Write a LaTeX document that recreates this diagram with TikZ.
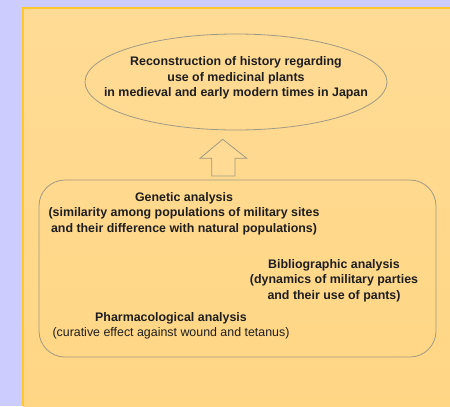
\documentclass[tikz,border=0pt]{standalone}
\usepackage{fontspec}
\setmainfont{Liberation Sans}
\usetikzlibrary{shapes.geometric}
\definecolor{lav}{HTML}{CCCCFF}
\definecolor{paneltop}{HTML}{FFDB95}
\definecolor{panelbot}{HTML}{FFD684}
\definecolor{panelrim}{HTML}{FFC830}
\definecolor{outl}{HTML}{A09A84}
\definecolor{txt}{HTML}{1E1E1E}
\tikzset{
  bigtxt/.style={font=\fontsize{12.4bp}{15.5bp}\selectfont, text=txt, align=center, inner sep=0pt},
  rimline/.style={draw=outl, line width=0.8bp},
}
\begin{document}
\begin{tikzpicture}[x=1bp,y=-1bp]
\useasboundingbox (0,0) rectangle (450,406);
\fill[lav] (0,0) rectangle (450,406);
\shade[top color=paneltop, bottom color=panelbot] (23,8) rectangle (450,406);
\draw[panelrim, line width=1.5bp] (23,406) -- (23,8) -- (450,8);
% ellipse
\node[ellipse, rimline, minimum width=302bp, minimum height=96bp, inner sep=0pt] (goal) at (236,82) {};
\node[bigtxt, font=\fontsize{12.4bp}{15.5bp}\selectfont\bfseries] (goaltxt) at (236,78) {Reconstruction of history regarding\\use of medicinal plants\\in medieval and early modern times in Japan};
% rounded box
\node[rimline, rounded corners=26bp, minimum width=397bp, minimum height=177bp, inner sep=0pt] (box) at (237.5,268.5) {};
% block arrow
\draw[rimline, fill=paneltop] (211.7,176) coordinate (a1) -- (211.7,158.3) -- (200,158.3) -- (222.7,139.3) coordinate (tip) -- (246.7,158.3) -- (235,158.3) -- (235,176) -- cycle;
% texts
\node[bigtxt] (gen) at (184,213.5) {\textbf{Genetic analysis}\\\textbf{(similarity among populations of military sites}\\\textbf{and their difference with natural populations)}};
\node[bigtxt] (bib) at (334,280.5) {\textbf{Bibliographic analysis}\\\textbf{(dynamics of military parties}\\\textbf{and their use of pants)}};
\node[bigtxt] (pha) at (171,326) {\textbf{Pharmacological analysis}\\(curative effect against wound and tetanus)};
\end{tikzpicture}
\end{document}
